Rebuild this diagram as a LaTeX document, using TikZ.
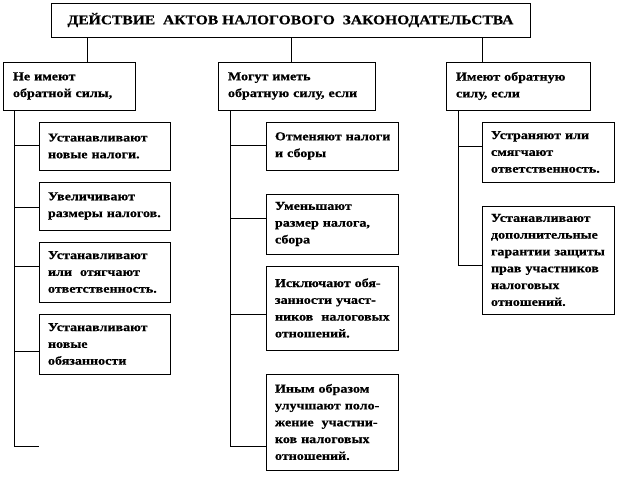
\documentclass[tikz,border=0pt]{standalone}
\usepackage{fontspec}
\setmainfont{Liberation Serif}[FakeStretch=1.17, BoldFeatures={FakeBold=0.6}]
\newcommand{\onel}[1]{\mbox{#1}}
\begin{document}
\begin{tikzpicture}[x=1pt,y=-1pt,
  box/.style={draw, line width=0.8pt, rectangle, inner xsep=9pt, inner ysep=0pt, align=left,
    font=\bfseries\fontsize{12}{16.8}\selectfont},
  ttl/.style={draw, line width=0.8pt, rectangle, inner sep=0pt, align=center,
    font=\bfseries\fontsize{13.3}{18}\selectfont},
  conn/.style={line width=0.8pt}]
\useasboundingbox (0,0) rectangle (618,495);
% title
\node[ttl, minimum width=479pt, minimum height=34pt] (title) at (290.5,20) {ДЕЙСТВИЕ\ \ АКТОВ НАЛОГОВОГО\ \ ЗАКОНОДАТЕЛЬСТВА};
% level 2
\node[box, minimum width=132pt, minimum height=48pt, text width=112pt] (A) at (69,86) {\onel{Не имеют}\\\onel{обратной силы,}};
\node[box, minimum width=157pt, minimum height=48pt, text width=137pt] (B) at (296.5,86) {\onel{Могут иметь}\\\onel{обратную силу, если}};
\node[box, minimum width=144pt, minimum height=48pt, text width=124pt, inner xsep=5pt] (C) at (518,86) {\onel{Имеют обратную}\\\onel{силу, если}};
\draw[conn] (title.south -| 87,0) -- (A.north -| 87,0);
\draw[conn] (title.south -| 291,0) -- (B.north -| 291,0);
\draw[conn] (title.south -| 482,0) -- (C.north -| 482,0);
% column A
\node[box, minimum width=131pt, minimum height=48pt, text width=113pt] (a1) at (104.5,146) {\onel{Устанавливают}\\\onel{новые налоги.}};
\node[box, minimum width=131pt, minimum height=48pt, text width=113pt] (a2) at (104.5,206) {\onel{Увеличивают}\\\onel{размеры налогов.}};
\node[box, minimum width=131pt, minimum height=60pt, text width=113pt] (a3) at (104.5,272) {\onel{Устанавливают}\\\onel{или\ \ отягчают}\\\onel{ответственность.}};
\node[box, minimum width=131pt, minimum height=60pt, text width=113pt] (a4) at (104.5,344) {\onel{Устанавливают}\\\onel{новые}\\\onel{обязанности}};
\coordinate (aend) at (39,446);
\draw[conn] (A.south -| 14,0) -- (14,446) -- (aend);
\draw[conn] (14,145) -- (a1.west |- 0,145);
\draw[conn] (14,207) -- (a2.west |- 0,207);
\draw[conn] (14,266) -- (a3.west |- 0,266);
\draw[conn] (14,351) -- (a4.west |- 0,351);
% column B
\node[box, minimum width=132pt, minimum height=48pt, text width=114pt] (b1) at (332,146) {\onel{Отменяют налоги}\\\onel{и сборы}};
\node[box, minimum width=132pt, minimum height=60pt, text width=114pt] (b2) at (332,224) {\onel{Уменьшают}\\\onel{размер налога,}\\\onel{сбора}};
\node[box, minimum width=132pt, minimum height=84pt, text width=114pt] (b3) at (332,308) {\onel{Исключают обя-}\\\onel{занности участ-}\\\onel{ников\ \ налоговых}\\\onel{отношений.}};
\node[box, minimum width=132pt, minimum height=96pt, text width=114pt] (b4) at (332,422) {\onel{Иным образом}\\\onel{улучшают поло-}\\\onel{жение\ \ участни-}\\\onel{ков налоговых}\\\onel{отношений.}};
\draw[conn] (B.south -| 230,0) -- (230,446) -- (b4.west |- 0,446);
\draw[conn] (230,145) -- (b1.west |- 0,145);
\draw[conn] (230,218) -- (b2.west |- 0,218);
\draw[conn] (230,314) -- (b3.west |- 0,314);
% column C
\node[box, minimum width=132pt, minimum height=60pt, text width=114pt] (c1) at (548,152) {\onel{Устраняют или}\\\onel{смягчают}\\\onel{ответственность.}};
\node[box, minimum width=132pt, minimum height=108pt, text width=114pt] (c2) at (548,260) {\onel{Устанавливают}\\\onel{дополнительные}\\\onel{гарантии защиты}\\\onel{прав участников}\\\onel{налоговых}\\\onel{отношений.}};
\draw[conn] (C.south -| 458,0) -- (458,265) -- (c2.west |- 0,265);
\draw[conn] (458,146) -- (c1.west |- 0,146);
\end{tikzpicture}
\end{document}
